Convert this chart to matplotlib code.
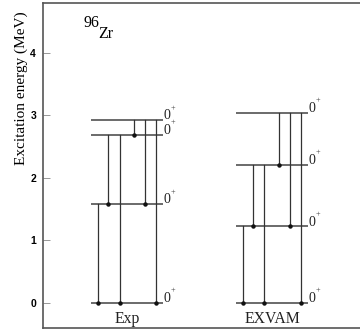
import matplotlib
matplotlib.use("Agg")
import matplotlib.pyplot as plt

# Data
columns = ["Exp", "EXVAM"]
exp_levels = [0.0, 1.58, 2.69, 2.92]
exvam_levels = [0.0, 1.22, 2.21, 3.04]
level_labels = ["0", "0", "0", "0"]
# transitions: (from_index, to_index)
transitions = [(1, 0), (2, 1), (2, 0), (3, 2), (3, 1), (3, 0)]
yticks = [0, 1, 2, 3, 4]
nucleus_mass = "96"
nucleus_sym = "Zr"

serif = ['Liberation Serif', 'DejaVu Serif']

fig = plt.figure(figsize=(3.6, 3.31), dpi=100)
ax = fig.add_axes([43/360, 1-328/331, 319/360, 325/331])
ax.set_xlim(43, 362)
ax.set_ylim(-0.405, 4.795)

col_left = [90.7, 236.0]
col_right = [163.3, 308.3]
trans_x = [[97.7, 108.3, 119.5, 134.0, 145.0, 155.7],
           [242.7, 253.3, 264.3, 279.3, 290.0, 300.7]]
ys = [exp_levels, exvam_levels]

for c in range(2):
    lv = ys[c]
    for i, e in enumerate(lv):
        ax.plot([col_left[c], col_right[c]], [e, e], color='#6a6a6a', lw=1.4,
                solid_capstyle='butt', zorder=2)
        ax.text(col_right[c] + 0.3, e + 0.015, level_labels[i],
                fontsize=10, ha='left', va='baseline', color='#222222', family=serif)
        ax.text(col_right[c] + 7.0, e + 0.16, "+",
                fontsize=6, ha='left', va='baseline', color='#333333', family=serif)
    for k, (a, b) in enumerate(transitions):
        x = trans_x[c][k]
        ax.plot([x, x], [lv[a], lv[b]], color='#333333', lw=0.9, zorder=3)
        ax.plot([x], [lv[b]], marker='o', ms=2.2, color='#111111', zorder=4)
    ax.text((col_left[c] + col_right[c]) / 2, -0.13, columns[c], ha='center',
            va='top', fontsize=11.3, family=serif, color='#222222')

ax.text(83.5, 4.416, nucleus_mass, fontsize=11.5, family=serif, va='baseline', ha='left')
ax.text(98.0, 4.23, nucleus_sym, fontsize=11.5, family=serif, va='baseline', ha='left')

ax.set_yticks(yticks)
ax.set_yticklabels([str(t) for t in yticks], fontsize=7.5, fontweight='bold',
                   family=['Liberation Sans', 'DejaVu Sans'])
ax.tick_params(axis='y', direction='in', length=5, width=0.6, color='#888888', pad=5)
ax.set_xticks([])
ax.set_ylabel("Excitation energy (MeV)", fontsize=11, family=serif)
ax.yaxis.set_label_coords(-0.047, 0.738)
for s in ['left', 'top', 'bottom']:
    ax.spines[s].set_color('#555555')
    ax.spines[s].set_linewidth(1.2)
ax.spines['right'].set_visible(False)

fig.savefig("out.png", dpi=100)
